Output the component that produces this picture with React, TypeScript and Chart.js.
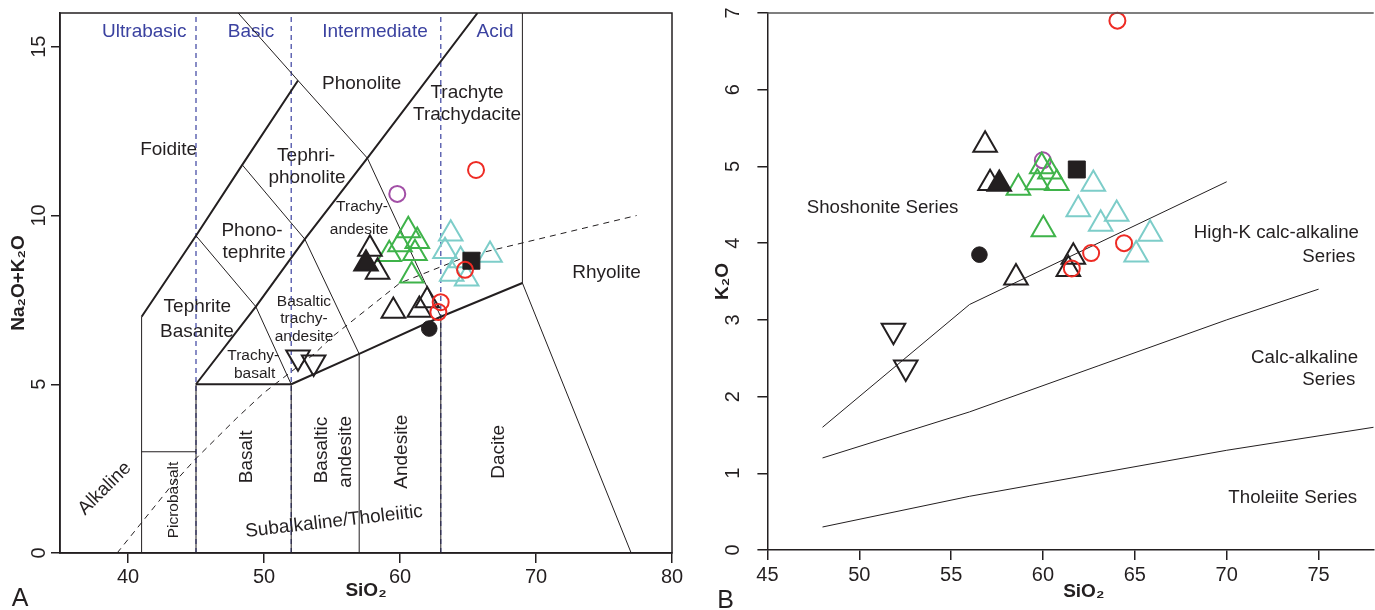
import React, { useEffect, useRef } from 'react';
import { Chart, registerables } from 'chart.js';

Chart.register(...registerables);
Chart.defaults.font.family = '"Liberation Sans", Arial, Helvetica, sans-serif';

type Pt = [number, number];

// ---------------- Panel A : TAS diagram ----------------
const tasXTicks = [40, 50, 60, 70, 80];
const tasYTicks = [0, 5, 10, 15];

const tasBlackOpenTri: Pt[] = [[57.79, 9.01], [58.35, 8.33], [59.51, 7.17], [61.42, 7.2], [62.0, 7.48]];
const tasBlackFilledTri: Pt[] = [[57.5, 8.57]];
const tasInvertedTri: Pt[] = [[52.5, 5.8], [53.65, 5.65]];
const tasFilledCircle: Pt[] = [[62.15, 6.65]];
const tasFilledSquare: Pt[] = [[65.25, 8.66]];
const tasGreenTri: Pt[] = [[60.61, 9.56], [61.27, 9.24], [60.0, 9.14], [59.21, 8.85], [61.1, 8.88], [60.86, 8.22]];
const tasCyanTri: Pt[] = [[63.73, 9.46], [63.31, 8.94], [64.46, 8.67], [66.62, 8.83], [63.8, 8.27], [64.9, 8.13]];
const tasRedCircle: Pt[] = [[65.59, 11.35], [64.78, 8.39], [62.99, 7.43], [62.82, 7.14]];
const tasPurpleCircle: Pt[] = [[59.8, 10.64]];

const tasThickLines: Pt[][] = [
  [[41, 7], [45, 9.4], [48.4, 11.5], [52.5, 14]],
  [[45, 5], [49.4, 7.3], [53, 9.3], [57.6, 11.7], [65.7, 16]],
  [[52, 5], [57, 5.9], [63, 7], [69, 8]],
  [[45, 5], [52, 5]],
];
const tasThinLines: Pt[][] = [
  [[48.1, 16], [52.5, 14], [57.6, 11.7], [63, 7]],
  [[48.4, 11.5], [53, 9.3], [57, 5.9]],
  [[45, 9.4], [49.4, 7.3], [52, 5]],
  [[69, 8], [77, 0]],
  [[69, 8], [69, 16]],
  [[41, 0], [41, 7]],
  [[41, 3], [45, 3]],
  [[45, 0], [45, 5]],
  [[52, 0], [52, 5]],
  [[57, 0], [57, 5.9]],
  [[63, 0], [63, 7]],
];
const tasSilicaDivisions: Pt[][] = [
  [[45, 0], [45, 16]],
  [[52, 0], [52, 16]],
  [[63, 0], [63, 16]],
];
const alkalineSubalkalineLine: Pt[] = [
  [39.2, 0], [40, 0.4], [43.2, 2], [45, 2.8], [48, 4], [50, 4.75],
  [53.7, 5.9], [55, 6.4], [60, 8], [65, 8.8], [77.4, 10],
];

// ---------------- Panel B : K2O vs SiO2 ----------------
const kXTicks = [45, 50, 55, 60, 65, 70, 75];
const kYTicks = [0, 1, 2, 3, 4, 5, 6, 7];

const kBlackOpenTri: Pt[] = [[56.85, 5.28], [57.12, 4.78], [58.53, 3.55], [61.65, 3.82], [61.38, 3.66]];
const kBlackFilledTri: Pt[] = [[57.62, 4.77]];
const kInvertedTri: Pt[] = [[51.86, 2.86], [52.53, 2.38]];
const kFilledCircle: Pt[] = [[56.54, 3.85]];
const kFilledSquare: Pt[] = [[61.84, 4.96]];
const kGreenTri: Pt[] = [[58.66, 4.72], [59.69, 4.79], [59.93, 5.0], [60.38, 4.93], [60.75, 4.78], [60.02, 4.18]];
const kCyanTri: Pt[] = [[62.74, 4.77], [61.92, 4.44], [64.01, 4.38], [63.14, 4.25], [65.83, 4.12], [65.07, 3.85]];
const kRedCircle: Pt[] = [[64.05, 6.9], [62.62, 3.87], [64.41, 4.0], [61.57, 3.67]];
const kPurpleCircle: Pt[] = [[59.99, 5.08]];

const shoshoniteBoundary: Pt[] = [[48, 1.6], [56, 3.2], [70, 4.8]];
const highKBoundary: Pt[] = [[48, 1.2], [52, 1.5], [56, 1.8], [63, 2.4], [70, 3.0], [75, 3.4]];
const tholeiiteBoundary: Pt[] = [[48, 0.3], [52, 0.5], [56, 0.7], [63, 1.0], [70, 1.3], [78, 1.6]];

// ---------------- styles ----------------
const C = {
  black: '#231f20',
  green: '#3fb34a',
  cyan: '#7dcdc9',
  red: '#ee2b24',
  purple: '#a24fa6',
  blue: '#3b42a0',
};
const FONT = '"Liberation Sans", Arial, Helvetica, sans-serif';

const S = {
  openTri: { shape: 'triangle', r: 13.6, bw: 2, fill: false, rot: 0 },
  filledTri: { shape: 'triangle', r: 13.6, bw: 2, fill: true, rot: 0 },
  invTri: { shape: 'triangle', r: 13.6, bw: 2, fill: false, rot: 180 },
  openCircle: { shape: 'circle', r: 8, bw: 2, fill: false, rot: 0 },
  dot: { shape: 'circle', r: 7.8, bw: 1, fill: true, rot: 0 },
  square: { shape: 'rect', r: 12, bw: 1, fill: true, rot: 0 },
};

function markerSet(label: string, pts: Pt[], st: any, color: string) {
  return {
    label,
    data: pts.map(([x, y]) => ({ x, y })),
    showLine: false,
    clip: false,
    order: 0,
    pointStyle: st.shape,
    pointRadius: st.r,
    pointHoverRadius: st.r,
    pointRotation: st.rot,
    pointBorderColor: color,
    pointBackgroundColor: st.fill ? color : 'rgba(0,0,0,0)',
    pointBorderWidth: st.bw,
    pointHoverBorderWidth: st.bw,
  };
}

function lineSet(pts: Pt[], width: number, color: string, dash: number[] = []) {
  return {
    data: pts.map(([x, y]) => ({ x, y })),
    showLine: true,
    pointRadius: 0,
    pointHoverRadius: 0,
    borderColor: color,
    backgroundColor: color,
    borderWidth: width,
    borderDash: dash,
    fill: false,
    tension: 0,
    order: 1,
  };
}

function zeroPadding(s: any) {
  s.paddingTop = 0;
  s.paddingBottom = 0;
  s.paddingLeft = 0;
  s.paddingRight = 0;
}

function xScale(min: number, max: number, ticks: number[], height: number, pad: number, titlePad: number, title: string) {
  return {
    type: 'linear',
    min,
    max,
    afterBuildTicks: (s: any) => { s.ticks = ticks.map((v) => ({ value: v })); },
    afterFit: (s: any) => { s.height = height; zeroPadding(s); },
    grid: { drawOnChartArea: false, drawTicks: true, tickLength: 10, color: C.black, lineWidth: 1.5 },
    border: { display: true, color: C.black, width: 1.5 },
    ticks: { autoSkip: false, maxRotation: 0, minRotation: 0, padding: pad, font: { size: 20 }, color: C.black },
    title: { display: true, text: title, color: C.black, font: { size: 19, weight: 'bold' }, padding: { top: 0, bottom: titlePad } },
  };
}

function yScale(min: number, max: number, ticks: number[], width: number, tickLen: number, pad: number, title: string, titlePad: number) {
  return {
    type: 'linear',
    min,
    max,
    afterBuildTicks: (s: any) => { s.ticks = ticks.map((v) => ({ value: v })); },
    afterFit: (s: any) => { s.width = width; zeroPadding(s); },
    grid: { drawOnChartArea: false, drawTicks: true, tickLength: tickLen, color: C.black, lineWidth: 1.5 },
    border: { display: true, color: C.black, width: 1.5 },
    ticks: { autoSkip: false, minRotation: 90, maxRotation: 90, crossAlign: 'center', padding: pad, font: { size: 20 }, color: C.black },
    title: { display: true, text: title, color: C.black, font: { size: 19, weight: 'bold' }, padding: { top: titlePad, bottom: 0 } },
  };
}

// label annotations (data coordinates), kept apart from the data arrays
const tasLabels = [
  { t: 'Ultrabasic', x: 41.2, y: 15.43, s: 19, r: 0, c: C.blue },
  { t: 'Basic', x: 49.04, y: 15.43, s: 19, r: 0, c: C.blue },
  { t: 'Intermediate', x: 58.16, y: 15.43, s: 19, r: 0, c: C.blue },
  { t: 'Acid', x: 66.99, y: 15.43, s: 19, r: 0, c: C.blue },
  { t: 'Phonolite', x: 57.18, y: 13.91, s: 19, r: 0, c: C.black },
  { t: 'Trachyte', x: 64.93, y: 13.65, s: 19, r: 0, c: C.black },
  { t: 'Trachydacite', x: 64.93, y: 12.98, s: 19, r: 0, c: C.black },
  { t: 'Foidite', x: 42.99, y: 11.94, s: 19, r: 0, c: C.black },
  { t: 'Tephri-', x: 53.1, y: 11.78, s: 19, r: 0, c: C.black },
  { t: 'phonolite', x: 53.16, y: 11.12, s: 19, r: 0, c: C.black },
  { t: 'Phono-', x: 49.12, y: 9.56, s: 19, r: 0, c: C.black },
  { t: 'tephrite', x: 49.28, y: 8.9, s: 19, r: 0, c: C.black },
  { t: 'Trachy-', x: 57.21, y: 10.25, s: 15.5, r: 0, c: C.black },
  { t: 'andesite', x: 56.99, y: 9.59, s: 15.5, r: 0, c: C.black },
  { t: 'Rhyolite', x: 75.19, y: 8.29, s: 19, r: 0, c: C.black },
  { t: 'Tephrite', x: 45.1, y: 7.29, s: 19, r: 0, c: C.black },
  { t: 'Basanite', x: 45.07, y: 6.55, s: 19, r: 0, c: C.black },
  { t: 'Basaltic', x: 52.94, y: 7.44, s: 15.5, r: 0, c: C.black },
  { t: 'trachy-', x: 52.94, y: 6.94, s: 15.5, r: 0, c: C.black },
  { t: 'andesite', x: 52.94, y: 6.42, s: 15.5, r: 0, c: C.black },
  { t: 'Trachy-', x: 49.21, y: 5.86, s: 15.5, r: 0, c: C.black },
  { t: 'basalt', x: 49.31, y: 5.32, s: 15.5, r: 0, c: C.black },
  { t: 'Alkaline', x: 38.29, y: 1.91, s: 19, r: -45, c: C.black },
  { t: 'Picrobasalt', x: 43.38, y: 1.57, s: 15.5, r: -90, c: C.black },
  { t: 'Basalt', x: 48.73, y: 2.85, s: 19, r: -90, c: C.black },
  { t: 'Basaltic', x: 54.24, y: 3.05, s: 19, r: -90, c: C.black },
  { t: 'andesite', x: 56.01, y: 3.0, s: 19, r: -90, c: C.black },
  { t: 'Andesite', x: 60.16, y: 3.0, s: 19, r: -90, c: C.black },
  { t: 'Dacite', x: 67.28, y: 3.0, s: 19, r: -90, c: C.black },
  { t: 'Subalkaline/Tholeiitic', x: 55.15, y: 0.93, s: 19, r: -6.5, c: C.black },
];

const kLabels = [
  { t: 'Shoshonite Series', x: 51.27, y: 4.455, s: 18.7, r: 0, c: C.black },
  { t: 'High-K calc-alkaline', x: 77.2, y: 4.13, s: 18.7, r: 0, c: C.black, a: 'right' },
  { t: 'Series', x: 77.0, y: 3.82, s: 18.7, r: 0, c: C.black, a: 'right' },
  { t: 'Calc-alkaline', x: 77.15, y: 2.5, s: 18.7, r: 0, c: C.black, a: 'right' },
  { t: 'Series', x: 77.0, y: 2.22, s: 18.7, r: 0, c: C.black, a: 'right' },
  { t: 'Tholeiite Series', x: 77.1, y: 0.674, s: 18.7, r: 0, c: C.black, a: 'right' },
];

function annotationPlugin(labels: any[], letter: string, letterX: number, letterY: number, fullFrame: boolean) {
  return {
    id: 'annotations',
    beforeDatasetsDraw(chart: any) {
      const { ctx, scales } = chart;
      const xs = scales.x;
      const ys = scales.y;
      labels.forEach((l) => {
        ctx.save();
        ctx.translate(xs.getPixelForValue(l.x), ys.getPixelForValue(l.y));
        ctx.rotate((l.r * Math.PI) / 180);
        ctx.font = `${l.s}px ${FONT}`;
        ctx.fillStyle = l.c;
        ctx.textAlign = l.a || 'center';
        ctx.textBaseline = 'middle';
        ctx.fillText(l.t, 0, 0);
        ctx.restore();
      });
    },
    afterDraw(chart: any) {
      const { ctx, chartArea: a } = chart;
      ctx.save();
      ctx.lineWidth = 1.5;
      if (fullFrame) {
        ctx.strokeStyle = C.black;
        ctx.strokeRect(a.left, a.top, a.right - a.left, a.bottom - a.top);
      } else {
        ctx.strokeStyle = '#555555';
        ctx.beginPath();
        ctx.moveTo(a.left, a.top);
        ctx.lineTo(a.right, a.top);
        ctx.stroke();
      }
      ctx.font = `25px ${FONT}`;
      ctx.fillStyle = C.black;
      ctx.textAlign = 'center';
      ctx.textBaseline = 'middle';
      ctx.fillText(letter, letterX, letterY);
      ctx.restore();
    },
  };
}

function markerDatasets(p: any) {
  return [
    markerSet('red', p.red, S.openCircle, C.red),
    markerSet('square', p.square, S.square, C.black),
    markerSet('dot', p.dot, S.dot, C.black),
    markerSet('filledTri', p.filledTri, S.filledTri, C.black),
    markerSet('openTri', p.openTri, S.openTri, C.black),
    markerSet('invTri', p.invTri, S.invTri, C.black),
    markerSet('green', p.green, S.openTri, C.green),
    markerSet('cyan', p.cyan, S.openTri, C.cyan),
    markerSet('purple', p.purple, S.openCircle, C.purple),
  ];
}

const commonOptions = {
  responsive: false,
  animation: false,
  events: [],
  plugins: { legend: { display: false }, tooltip: { enabled: false } },
};

export default function App() {
  const refA = useRef<HTMLCanvasElement>(null);
  const refB = useRef<HTMLCanvasElement>(null);

  useEffect(() => {
    const dsA: any[] = [
      ...markerDatasets({
        red: tasRedCircle, square: tasFilledSquare, dot: tasFilledCircle, filledTri: tasBlackFilledTri,
        openTri: tasBlackOpenTri, invTri: tasInvertedTri, green: tasGreenTri, cyan: tasCyanTri, purple: tasPurpleCircle,
      }),
      ...tasThickLines.map((l) => lineSet(l, 2, C.black)),
      ...tasThinLines.map((l) => lineSet(l, 1, C.black)),
      ...tasSilicaDivisions.map((l) => lineSet(l, 1.2, C.blue, [5, 4])),
      lineSet(alkalineSubalkalineLine, 1, C.black, [6, 5]),
    ];
    const chartA = new Chart(refA.current as HTMLCanvasElement, {
      type: 'scatter',
      data: { datasets: dsA },
      options: {
        ...commonOptions,
        layout: { autoPadding: false, padding: { left: 0, right: 18, top: 13, bottom: 0 } },
        scales: {
          x: xScale(35, 80, tasXTicks, 57, 2, 7.6, 'SiO₂'),
          y: yScale(0, 16, tasYTicks, 60, 9, 0, 'Na₂O+K₂O', 7),
        },
      } as any,
      plugins: [annotationPlugin(tasLabels, 'A', 20, 599, true)],
    } as any);

    const dsB: any[] = [
      ...markerDatasets({
        red: kRedCircle, square: kFilledSquare, dot: kFilledCircle, filledTri: kBlackFilledTri,
        openTri: kBlackOpenTri, invTri: kInvertedTri, green: kGreenTri, cyan: kCyanTri, purple: kPurpleCircle,
      }),
      lineSet(shoshoniteBoundary, 1, C.black),
      lineSet(highKBoundary, 1, C.black),
      lineSet(tholeiiteBoundary, 1, C.black),
    ];
    const chartB = new Chart(refB.current as HTMLCanvasElement, {
      type: 'scatter',
      data: { datasets: dsB },
      options: {
        ...commonOptions,
        layout: { autoPadding: false, padding: { left: 0, right: 1.3, top: 13, bottom: 0 } },
        scales: {
          x: xScale(45, 78, kXTicks, 60, 3, 6.9, '     SiO₂'),
          y: yScale(0, 7, kYTicks, 77.4, 10, 18, 'K₂O', 21.6),
        },
      } as any,
      plugins: [annotationPlugin(kLabels, 'B', 35.5, 601, false)],
    } as any);

    return () => {
      chartA.destroy();
      chartB.destroy();
    };
  }, []);

  return (
    <div style={{ position: 'fixed', left: 0, top: 0, width: 1375, height: 610, background: '#ffffff' }}>
      <canvas ref={refA} width={690} height={610} style={{ position: 'absolute', left: 0, top: 0, display: 'block' }} />
      <canvas ref={refB} width={685} height={610} style={{ position: 'absolute', left: 690, top: 0, display: 'block' }} />
    </div>
  );
}
